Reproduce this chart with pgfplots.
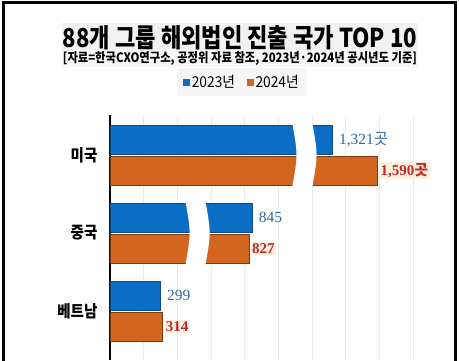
\documentclass[border=0pt]{standalone}
\usepackage{fontspec}
\setmainfont{Noto Sans CJK KR}
\newfontfamily\kr{Noto Sans CJK KR}
\newfontfamily\numfont{Liberation Serif}
\usepackage{graphicx}
\usepackage{pgfplots}
\pgfplotsset{compat=1.18}
\definecolor{cblue}{HTML}{0A6EC4}
\definecolor{cblueD}{HTML}{0B4C86}
\definecolor{corange}{HTML}{D2661E}
\definecolor{corangeD}{HTML}{7A3A10}
\definecolor{lblue}{HTML}{2D6AA3}
\definecolor{lred}{HTML}{C0282A}
\definecolor{beige}{HTML}{FDF0DC}
\newcommand\cond[2]{\scalebox{#1}[1]{#2}}
\DeclareRobustCommand\got{{\kr 곳}}
\begin{document}
\begin{tikzpicture}
\useasboundingbox (0pt,0pt) rectangle (459pt,360pt);
\begin{scope}
\clip (0pt,0pt) rectangle (459pt,360pt);
\fill[gray!11] (62pt,337pt) rectangle (418pt,310pt);
\fill[gray!6] (62pt,310pt) rectangle (418pt,293pt);
\node[inner sep=0pt] at (240pt,322pt) {\resizebox{354pt}{\height}{\fontsize{26}{26}\selectfont\bfseries 88개 그룹 해외법인 진출 국가 TOP 10}};
\node[inner sep=0pt] at (240pt,302pt) {\resizebox{354pt}{\height}{\fontsize{13}{13}\selectfont\bfseries [자료=한국CXO연구소, 공정위 자료 참조, 2023년·2024년 공시년도 기준]}};
\begin{axis}[
  at={(110pt,49pt)}, anchor=origin,
  scale only axis, width=303pt, height=245pt,
  xmin=0, xmax=1800, ymin=-0.628, ymax=2.513,
  xbar, bar width=29pt,
  xmajorgrids, grid style={gray!15, line width=0.6pt},
  xtick={0,200,...,1800}, xticklabels={},
  ytick={0,1,2},
  yticklabels={\cond{0.88}{베트남},\cond{0.88}{중국},\cond{0.88}{미국}},
  yticklabel style={font=\fontsize{16.5}{16.5}\selectfont\bfseries, anchor=east, xshift=-9pt},
  major tick length=0pt,
  separate axis lines,
  axis x line*=bottom, x axis line style={draw=none},
  axis y line*=left, y axis line style={black, line width=1.4pt, -},
  clip=false,
  point meta=explicit symbolic,
  legend columns=2,
  legend style={at={(axis description cs:0.436,1.135)}, anchor=center,
    fill=gray!8, draw=none, font=\fontsize{15}{15}\selectfont,
    inner xsep=6pt, inner ysep=5pt,
    /tikz/every even column/.append style={column sep=10pt}},
]
\addlegendimage{legend image code/.code={\fill[cblue] (4pt,-3pt) rectangle (10pt,3pt);}}
\addlegendentry{\cond{0.92}{2023년}}
\addlegendimage{legend image code/.code={\fill[corange] (4pt,-3pt) rectangle (10pt,3pt);}}
\addlegendentry{\cond{0.92}{2024년}}
\addplot[forget plot, fill=cblue, draw=cblueD, line width=0.8pt, bar shift=15.5pt,
  nodes near coords, nodes near coords style={text=lblue, anchor=west, xshift=3pt,
  font=\numfont\fontsize{15.5}{15.5}\selectfont}]
  coordinates {(1321,2) [1,321\got] (845,1) [845] (299,0) [299]};
\addplot[forget plot, fill=corange, draw=corangeD, line width=0.8pt, bar shift=-15.5pt,
  nodes near coords, nodes near coords style={text=lred, anchor=west, xshift=1pt,
  fill=beige, inner sep=1.5pt,
  font=\numfont\bfseries\fontsize{15}{15}\selectfont}]
  coordinates {(1590,2) [1,590\got] (827,1) [827] (314,0) [314]};
\fill[white] (axis cs:1081,2.43) .. controls (axis cs:1117,2) .. (axis cs:1081,1.57)
  -- (axis cs:1200,1.57) .. controls (axis cs:1236,2) .. (axis cs:1200,2.43) -- cycle;
\fill[white] (axis cs:446,1.43) .. controls (axis cs:482,1) .. (axis cs:446,0.57)
  -- (axis cs:565,0.57) .. controls (axis cs:601,1) .. (axis cs:565,1.43) -- cycle;
\end{axis}
\draw[line width=3pt] (3.3pt,-10pt) rectangle (455pt,357.5pt);
\end{scope}
\end{tikzpicture}
\end{document}
